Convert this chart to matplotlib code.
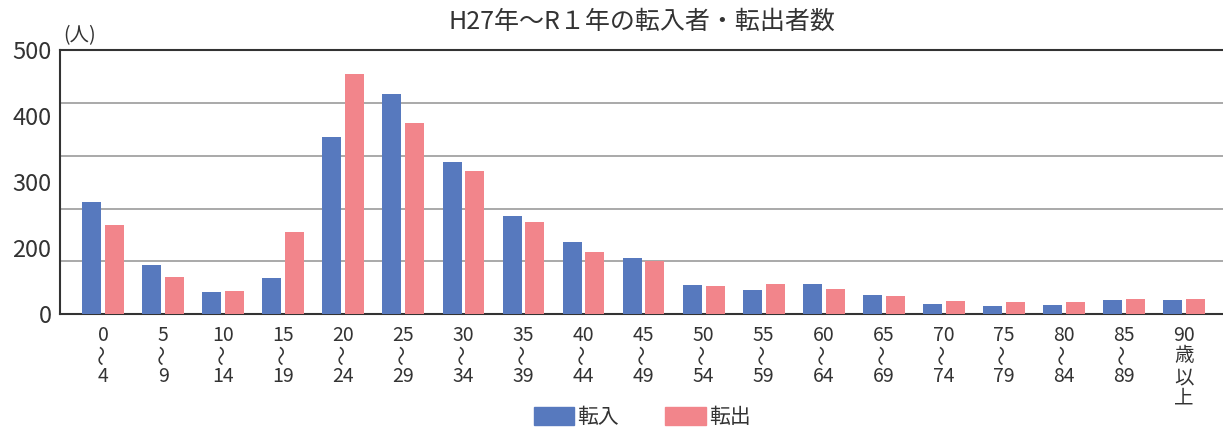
import numpy as np
import matplotlib
matplotlib.use("Agg")
import matplotlib.pyplot as plt
from matplotlib.patches import Patch

plt.rcParams['font.family'] = ['Noto Sans CJK JP', 'DejaVu Sans']

# data
age_top = ["0", "5", "10", "15", "20", "25", "30", "35", "40", "45",
           "50", "55", "60", "65", "70", "75", "80", "85", "90"]
age_bottom = ["4", "9", "14", "19", "24", "29", "34", "39", "44", "49",
              "54", "59", "64", "69", "74", "79", "84", "89", None]
tennyu = [213, 93, 42, 69, 336, 417, 288, 186, 137, 107,
          55, 46, 57, 36, 19, 15, 17, 27, 27]
tenshutsu = [169, 71, 44, 156, 455, 362, 271, 175, 118, 100,
             53, 57, 48, 34, 25, 23, 23, 29, 29]
y_labels = ["0", "200", "300", "400", "500"]
grid_values = [0, 100, 200, 300, 400, 500]

BLUE = "#5779be"
PINK = "#f2858b"
TEXT = "#333333"

fig = plt.figure(figsize=(12.23, 4.30), dpi=100)
ax = fig.add_axes([0.049, 0.269, 0.951, 0.615])

x = np.arange(len(age_top))
w = 0.317
ax.bar(x - 0.19, tennyu, width=w, color=BLUE, zorder=3)
ax.bar(x + 0.19, tenshutsu, width=w, color=PINK, zorder=3)

ax.set_xlim(-0.72, 18.65)
ax.set_ylim(0, 500)

for g in grid_values[1:-1]:
    ax.axhline(g, color="#a3a3a3", lw=1.3, zorder=1)

for s in ["left", "bottom", "top"]:
    ax.spines[s].set_color(TEXT)
    ax.spines[s].set_linewidth(1.5)
ax.spines["right"].set_visible(False)

# y labels in the reference sit evenly spaced, not on the gridlines
ax.set_yticks(np.linspace(0, 500, len(y_labels)))
ax.set_yticklabels(y_labels, fontsize=17, color=TEXT)
ax.tick_params(axis="y", length=0, pad=6)
ax.set_xticks([])

# multi-line age labels with a vertical wave between
for i in x:
    kw = dict(xy=(i, 0), xycoords=("data", "axes fraction"),
              textcoords="offset points", ha="center", va="center",
              color=TEXT, fontsize=14)
    ax.annotate(age_top[i], xytext=(0, -15), **kw)
    if age_bottom[i] is not None:
        ax.annotate("～", xytext=(0, -29.5), rotation=90,
                    **{**kw, "fontsize": 14.5})
        ax.annotate(age_bottom[i], xytext=(0, -45), **kw)
    else:
        for ch, dy in zip("歳以上", [-29.5, -45.5, -60.5]):
            ax.annotate(ch, xytext=(0, dy), **kw)

fig.text(0.525, 0.949, "H27年～R１年の転入者・転出者数", ha="center",
         va="center", fontsize=18, color=TEXT)
fig.text(0.065, 0.918, "(人)", ha="center", va="center", fontsize=14,
         color=TEXT)

handles = [Patch(color=BLUE, label="転入"), Patch(color=PINK, label="転出")]
fig.legend(handles=handles, loc="center", bbox_to_anchor=(0.525, 0.03),
           ncol=2, frameon=False, fontsize=15, handlelength=1.95,
           handleheight=0.9, handletextpad=0.15, columnspacing=2.2,
           labelcolor=TEXT)

fig.savefig("out.png", dpi=100)
